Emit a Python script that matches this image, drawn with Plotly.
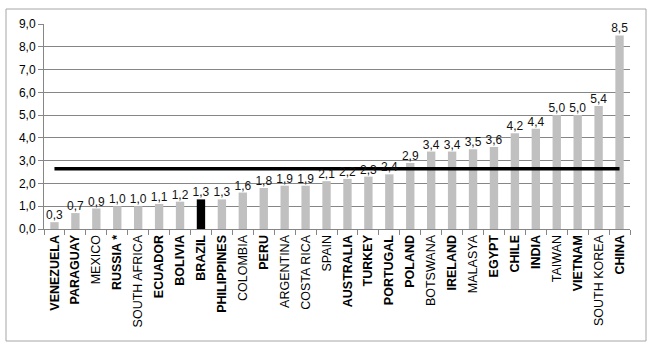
import plotly.graph_objects as go

countries = ["VENEZUELA", "PARAGUAY", "MEXICO", "RUSSIA *", "SOUTH AFRICA", "ECUADOR", "BOLIVIA",
             "BRAZIL", "PHILIPPINES", "COLOMBIA", "PERU", "ARGENTINA", "COSTA RICA", "SPAIN",
             "AUSTRALIA", "TURKEY", "PORTUGAL", "POLAND", "BOTSWANA", "IRELAND", "MALASYA",
             "EGYPT", "CHILE", "INDIA", "TAIWAN", "VIETNAM", "SOUTH KOREA", "CHINA"]
values = [0.3, 0.7, 0.9, 1.0, 1.0, 1.1, 1.2, 1.3, 1.3, 1.6, 1.8, 1.9, 1.9, 2.1,
          2.2, 2.3, 2.4, 2.9, 3.4, 3.4, 3.5, 3.6, 4.2, 4.4, 5.0, 5.0, 5.4, 8.5]
bold_labels = ["VENEZUELA", "PARAGUAY", "RUSSIA *", "ECUADOR", "BOLIVIA", "BRAZIL", "PHILIPPINES",
               "PERU", "AUSTRALIA", "TURKEY", "PORTUGAL", "POLAND", "IRELAND", "EGYPT",
               "CHILE", "INDIA", "VIETNAM", "CHINA"]
highlight = "BRAZIL"
average = 2.65

colors = ["#000000" if c == highlight else "#C0C0C0" for c in countries]
ticktext = [f"<b>{c}</b>" if c in bold_labels else c for c in countries]

fig = go.Figure()
fig.add_trace(go.Bar(
    x=countries, y=values, marker=dict(color=colors, line=dict(width=0)),
    showlegend=False,
))
fig.add_trace(go.Scatter(
    x=[countries[0], countries[-1]], y=[average, average], mode="lines",
    line=dict(color="#000000", width=3.5), showlegend=False, hoverinfo="skip",
))
fig.add_trace(go.Scatter(
    x=countries, y=values, mode="text", text=values, texttemplate="%{y:.1f}",
    textposition="top center", textfont=dict(size=12, color="#111111"),
    cliponaxis=False, showlegend=False, hoverinfo="skip",
))

L, R, T, B = 44, 24, 24, 121
W, H = 654, 350
pw, ph = W - L - R, H - T - B

fig.update_layout(
    width=W, height=H, margin=dict(l=L, r=R, t=T, b=B),
    paper_bgcolor="white", plot_bgcolor="white",
    separators=",.",
    bargap=0.6,
    font=dict(family="Liberation Sans, Arial, sans-serif", size=11, color="#000000"),
    shapes=[dict(type="rect", xref="paper", yref="paper",
                 x0=(6 - L) / pw, x1=(646 - L) / pw,
                 y0=(T + ph - 341) / ph, y1=(T + ph - 9) / ph,
                 line=dict(color="#A6A6A6", width=1), fillcolor="rgba(0,0,0,0)", layer="below")],
)
fig.update_xaxes(
    type="category", tickvals=countries, ticktext=ticktext, tickangle=-90,
    tickfont=dict(family="Liberation Sans, Arial, sans-serif", size=12.5, color="#000000"),
    showline=True, linecolor="#868686", linewidth=1,
    ticks="outside", tickson="boundaries", ticklen=5, tickcolor="#868686",
    showgrid=False, range=[-0.5, len(countries) - 0.5],
)
fig.update_yaxes(
    range=[0, 9], dtick=1, tickformat=".1f",
    showline=True, linecolor="#868686", linewidth=1,
    ticks="outside", ticklen=5, tickcolor="#868686",
    showgrid=True, gridcolor="#868686", gridwidth=1, zeroline=False,
    tickfont=dict(size=12, color="#000000"),
)

fig.write_html("out.html")
